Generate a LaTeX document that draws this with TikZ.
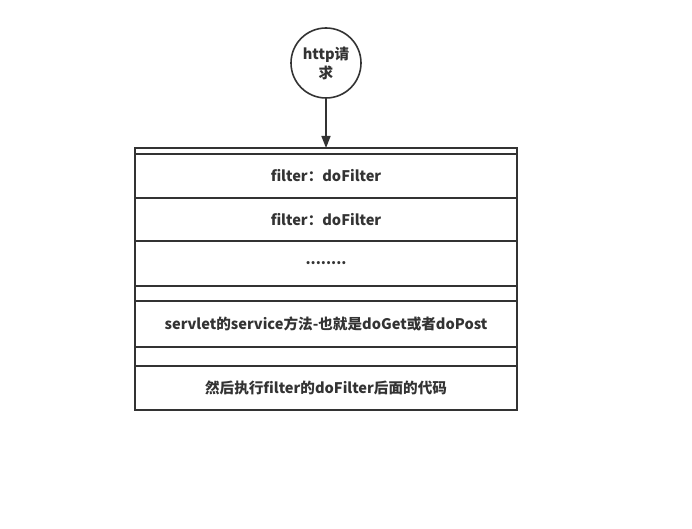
\documentclass[tikz,border=0pt]{standalone}
\usepackage{fontspec}
\setmainfont{Noto Sans CJK SC}
\usepackage{xcolor}
\usetikzlibrary{positioning,arrows.meta}
\definecolor{linegray}{HTML}{333333}
\tikzset{
    rowbox/.style={draw=linegray, line width=1.6pt, minimum width=382pt,
        inner sep=0pt, outer sep=0pt, text=linegray,
        font=\fontsize{14.6}{17}\selectfont\bfseries},
    request/.style={circle, draw=linegray, line width=1.6pt, minimum size=70pt,
        inner sep=0pt, align=center, text=linegray,
        font=\fontsize{14.6}{19}\selectfont\bfseries}
}

\begin{document}
\begin{tikzpicture}[x=1pt,y=1pt]

    % Fix the page to the size of the reference
    \useasboundingbox (0,0) rectangle (692,528);

    % The incoming request
    \node[request] (req) at (326,465) {http请\\求};

    % The chain, one row below the other
    \node[rowbox, minimum height=6pt, anchor=north] (top) at (326,380) {};
    \node[rowbox, minimum height=44pt, below=0pt of top] (filterA) {filter：doFilter};
    \node[rowbox, minimum height=43pt, below=0pt of filterA] (filterB) {filter：doFilter};
    \node[rowbox, minimum height=45pt, below=0pt of filterB] (more) {........};
    \node[rowbox, minimum height=15pt, below=0pt of more] (gapA) {};
    \node[rowbox, minimum height=46pt, below=0pt of gapA] (servlet) {servlet的service方法-也就是doGet或者doPost};
    \node[rowbox, minimum height=19pt, below=0pt of servlet] (gapB) {};
    \node[rowbox, minimum height=44pt, below=0pt of gapB] (after) {然后执行filter的doFilter后面的代码};

    % Request goes into the chain
    \draw[linegray, line width=1.6pt, -{Triangle[length=12pt,width=9pt]}] (req) -- (top);

\end{tikzpicture}
\end{document}
